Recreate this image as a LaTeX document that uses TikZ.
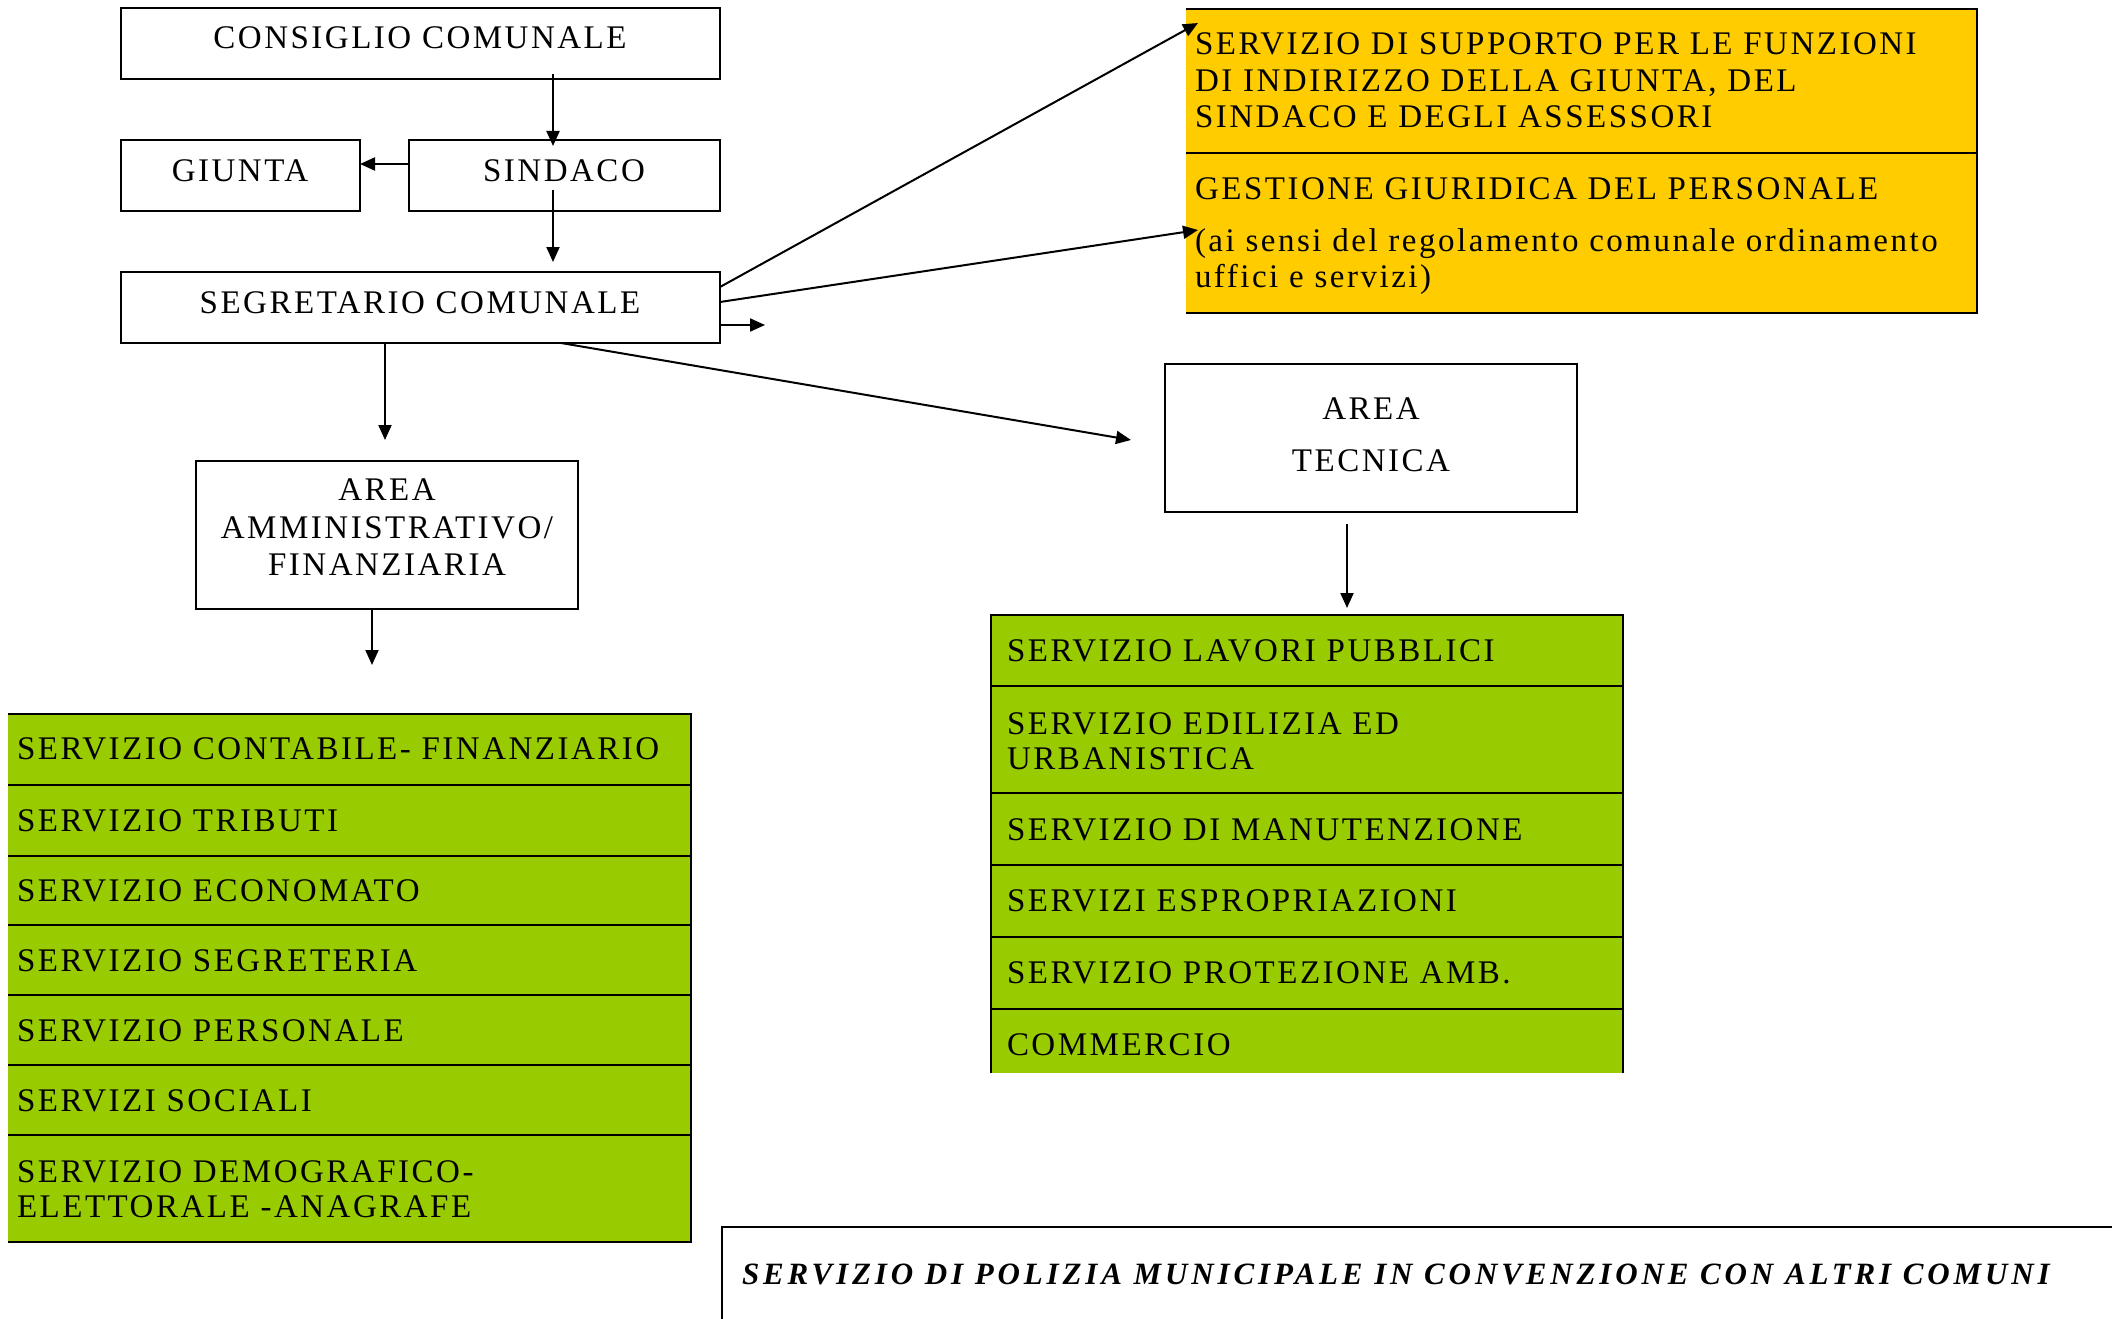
\documentclass[tikz,border=0pt]{standalone}
\usepackage{fontspec}
\setmainfont{Liberation Serif}[LetterSpace=7.6]
\usetikzlibrary{arrows.meta}
\definecolor{ygold}{HTML}{FFCC00}
\definecolor{lgreen}{HTML}{99CC00}
\begin{document}
\begin{tikzpicture}[x=1pt,y=-1pt,
  every node/.style={outer sep=0pt},
  box/.style={draw, line width=2pt, inner sep=0pt, anchor=north west},
  fillbox/.style={fill=#1, draw=none, inner sep=0pt, anchor=north west},
  bline/.style={line width=2pt},
  txt/.style={anchor=base west, inner sep=0pt, font=\fontsize{33}{38}\selectfont},
  ctxt/.style={anchor=base, inner sep=0pt, font=\fontsize{33}{38}\selectfont},
  arr/.style={line width=2pt, -{Triangle[length=15pt,width=13pt]}},
]
\useasboundingbox (0,0) rectangle (2112,1319);
% top boxes
\node[box, minimum width=599pt, minimum height=71pt] (consiglio) at (121,8) {};
\node[box, minimum width=239pt, minimum height=71pt] (giunta) at (121,140) {};
\node[box, minimum width=311pt, minimum height=71pt] (sindaco) at (409,140) {};
\node[box, minimum width=599pt, minimum height=71pt] (segretario) at (121,272) {};
\node[ctxt] (tconsiglio) at (420,49) {CONSIGLIO COMUNALE};
\node[ctxt] (tgiunta) at (240,182) {GIUNTA};
\node[ctxt] (tsindaco) at (564,182) {SINDACO};
\node[ctxt] (tsegretario) at (420,313) {SEGRETARIO COMUNALE};
% yellow
\node[fillbox=ygold, minimum width=791pt, minimum height=144pt] (y1) at (1186,9) {};
\node[fillbox=ygold, minimum width=791pt, minimum height=160pt] (y2) at (1186,153) {};
\draw[bline] (y1.north west) -- (y1.north east) -- (y2.south east) -- (y2.south west);
\draw[bline] (y1.south west) -- (y1.south east);
\node[txt] (ty1) at (1195,55) {SERVIZIO DI SUPPORTO PER LE FUNZIONI};
\node[txt] (ty2) at (1195,92) {DI INDIRIZZO DELLA GIUNTA, DEL};
\node[txt] (ty3) at (1195,128) {SINDACO E DEGLI ASSESSORI};
\node[txt] (ty4) at (1195,199) {GESTIONE GIURIDICA DEL PERSONALE};
\node[txt] (ty5) at (1195,251) {(ai sensi del regolamento comunale ordinamento};
\node[txt] (ty6) at (1195,287) {uffici e servizi)};
% areas
\node[box, minimum width=382pt, minimum height=148pt] (amm) at (196,461) {};
\node[ctxt] (tamm1) at (387,500) {AREA};
\node[ctxt] (tamm2) at (387,538) {AMMINISTRATIVO/};
\node[ctxt] (tamm3) at (387,575) {FINANZIARIA};
\node[box, minimum width=412pt, minimum height=148pt] (tec) at (1165,364) {};
\node[ctxt] (ttec1) at (1371,419) {AREA};
\node[ctxt] (ttec2) at (1371,471) {TECNICA};
% left green
\node[fillbox=lgreen, minimum width=683pt, minimum height=71pt] (L1) at (8,714) {};
\node[fillbox=lgreen, minimum width=683pt, minimum height=71pt] (L2) at (8,785) {};
\node[fillbox=lgreen, minimum width=683pt, minimum height=69pt] (L3) at (8,856) {};
\node[fillbox=lgreen, minimum width=683pt, minimum height=70pt] (L4) at (8,925) {};
\node[fillbox=lgreen, minimum width=683pt, minimum height=70pt] (L5) at (8,995) {};
\node[fillbox=lgreen, minimum width=683pt, minimum height=70pt] (L6) at (8,1065) {};
\node[fillbox=lgreen, minimum width=683pt, minimum height=107pt] (L7) at (8,1135) {};
\draw[bline] (L1.north west) -- (L1.north east) -- (L7.south east) -- (L7.south west);
\foreach \r in {L1,L2,L3,L4,L5,L6} \draw[bline] (\r.south west) -- (\r.south east);
\node[txt] (tl1) at (17,759) {SERVIZIO CONTABILE- FINANZIARIO};
\node[txt] (tl2) at (17,831) {SERVIZIO TRIBUTI};
\node[txt] (tl3) at (17,901) {SERVIZIO ECONOMATO};
\node[txt] (tl4) at (17,971) {SERVIZIO SEGRETERIA};
\node[txt] (tl5) at (17,1041) {SERVIZIO PERSONALE};
\node[txt] (tl6) at (17,1111) {SERVIZI SOCIALI};
\node[txt] (tl7) at (17,1182) {SERVIZIO DEMOGRAFICO-};
\node[txt] (tl8) at (17,1217) {ELETTORALE -ANAGRAFE};
% right green
\node[fillbox=lgreen, minimum width=632pt, minimum height=71pt] (R1) at (991,615) {};
\node[fillbox=lgreen, minimum width=632pt, minimum height=107pt] (R2) at (991,686) {};
\node[fillbox=lgreen, minimum width=632pt, minimum height=72pt] (R3) at (991,793) {};
\node[fillbox=lgreen, minimum width=632pt, minimum height=72pt] (R4) at (991,865) {};
\node[fillbox=lgreen, minimum width=632pt, minimum height=72pt] (R5) at (991,937) {};
\node[fillbox=lgreen, minimum width=632pt, minimum height=64pt] (R6) at (991,1009) {};
\draw[bline] (R6.south west) -- (R1.north west) -- (R1.north east) -- (R6.south east);
\foreach \r in {R1,R2,R3,R4,R5} \draw[bline] (\r.south west) -- (\r.south east);
\node[txt] (tr1) at (1007,661) {SERVIZIO LAVORI PUBBLICI};
\node[txt] (tr2) at (1007,734) {SERVIZIO EDILIZIA ED};
\node[txt] (tr3) at (1007,769) {URBANISTICA};
\node[txt] (tr4) at (1007,840) {SERVIZIO DI MANUTENZIONE};
\node[txt] (tr5) at (1007,911) {SERVIZI ESPROPRIAZIONI};
\node[txt] (tr6) at (1007,983) {SERVIZIO PROTEZIONE AMB.};
\node[txt] (tr7) at (1007,1055) {COMMERCIO};
% bottom box
\node[fillbox=white, minimum width=1400pt, minimum height=100pt] (pol) at (722,1227) {};
\draw[bline] (pol.south west) -- (pol.north west) -- (pol.north east);
\node[txt, font=\fontsize{31}{36}\selectfont\bfseries\itshape\addfontfeatures{LetterSpace=12.5}] (tpol) at (742,1284) {SERVIZIO DI POLIZIA MUNICIPALE IN CONVENZIONE CON ALTRI COMUNI};
% connectors
\coordinate (free1) at (765,325);
\draw[arr] ([xshift=-167pt,yshift=5pt]consiglio.south east) -- ([xshift=144pt,yshift=-6pt]sindaco.north west);
\draw[arr] ([yshift=11.5pt]sindaco.west) -- ([yshift=11.5pt]giunta.east);
\draw[arr] ([xshift=144pt,yshift=21pt]sindaco.south west) -- ([xshift=432pt,yshift=10pt]segretario.north west);
\draw[arr] ([yshift=-17.5pt]segretario.east) -- (free1);
\draw[arr] ([yshift=20.5pt]segretario.east) -- ([xshift=12pt,yshift=-14pt]y1.north west);
\draw[arr] ([yshift=5.5pt]segretario.east) -- ([xshift=12pt,yshift=-77pt]y2.north west);
\draw[arr] ([xshift=-159pt]segretario.south east) -- ([xshift=-34pt,yshift=-2pt]tec.west);
\draw[arr] ([xshift=264pt]segretario.south west) -- ([xshift=-2pt,yshift=21pt]amm.north);
\draw[arr] ([xshift=-15pt]amm.south) -- ([xshift=364pt,yshift=49pt]L1.north west);
\draw[arr] ([xshift=-24pt,yshift=-12pt]tec.south) -- ([xshift=356pt,yshift=7pt]R1.north west);
\end{tikzpicture}
\end{document}
